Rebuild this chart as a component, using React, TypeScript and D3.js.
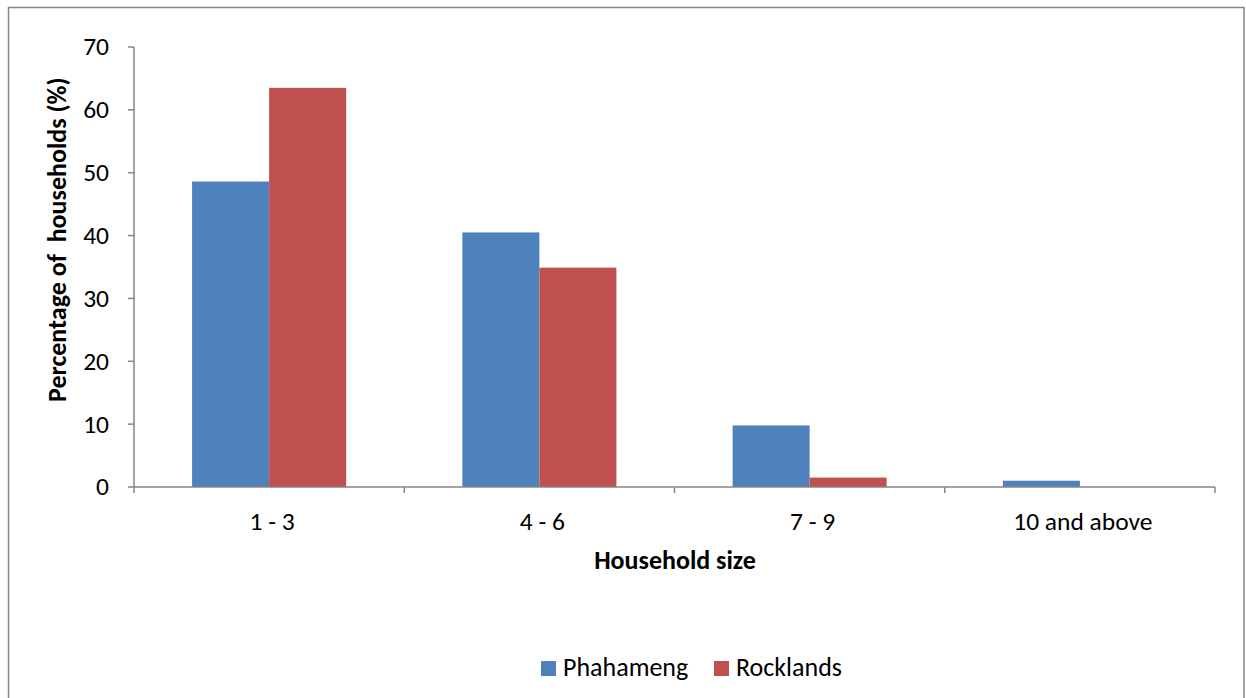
import React from "react";
import * as d3 from "d3";

const categories = ["1 - 3", "4 - 6", "7 - 9", "10 and above"];
const seriesNames = ["Phahameng", "Rocklands"];
const phahameng = [48.6, 40.5, 9.8, 1.0];
const rocklands = [63.5, 34.9, 1.5, 0];
const yTicks = [0, 10, 20, 30, 40, 50, 60, 70];
const colors = ["#4f81bd", "#c0504d"];

const W = 1246;
const H = 698;
const margin = { left: 134, right: 31, top: 47, bottom: 211 };
const font = "Carlito, Calibri, 'Open Sans', 'Noto Sans', sans-serif";

export default function App() {
  const x = d3
    .scaleBand<string>()
    .domain(categories)
    .range([margin.left, W - margin.right])
    .paddingInner(0)
    .paddingOuter(0);
  const y = d3.scaleLinear().domain([0, 70]).range([H - margin.bottom, margin.top]);
  const groupW = x.bandwidth() * 0.57;
  const x1 = d3.scaleBand<string>().domain(seriesNames).range([0, groupW]);
  const values = [phahameng, rocklands];
  const axisColor = "#868686";
  const y0 = y(0);

  return (
    <svg
      width={W}
      height={H}
      style={{ position: "absolute", left: 0, top: 0 }}
      fontFamily={font}
    >
      <rect x={0} y={0} width={W} height={H} fill="#fff" />
      <rect x={8.5} y={7.5} width={1235.5} height={H} fill="none" stroke={axisColor} strokeWidth={1.5} />

      {/* bars */}
      {categories.map((c, i) => {
        const gx = (x(c) as number) + (x.bandwidth() - groupW) / 2;
        return seriesNames.map((s, j) => {
          const v = values[j][i];
          if (v <= 0) return null;
          return (
            <rect
              key={c + s}
              x={gx + (x1(s) as number)}
              y={y(v)}
              width={x1.bandwidth()}
              height={y0 - y(v)}
              fill={colors[j]}
            />
          );
        });
      })}

      {/* y axis */}
      <line x1={margin.left} x2={margin.left} y1={y(70)} y2={y0} stroke={axisColor} strokeWidth={1.5} />
      {yTicks.map((t) => (
        <g key={t}>
          <line x1={margin.left - 6} x2={margin.left} y1={y(t)} y2={y(t)} stroke={axisColor} strokeWidth={1.5} />
          <text x={109} y={y(t)} dy="0.33em" textAnchor="end" fontSize={25.5} fill="#000">
            {t}
          </text>
        </g>
      ))}

      {/* x axis */}
      <line x1={margin.left} x2={W - margin.right} y1={y0} y2={y0} stroke={axisColor} strokeWidth={1.5} />
      {[...categories.map((c) => x(c) as number), W - margin.right].map((px, i) => (
        <line key={i} x1={px} x2={px} y1={y0} y2={y0 + 6} stroke={axisColor} strokeWidth={1.5} />
      ))}
      {categories.map((c) => (
        <text
          key={c}
          x={(x(c) as number) + x.bandwidth() / 2 + 3}
          y={530}
          textAnchor="middle"
          fontSize={25.5}
          fill="#000"
        >
          {c}
        </text>
      ))}

      {/* axis titles */}
      <text x={675} y={569} textAnchor="middle" fontSize={26} fontWeight="bold">
        Household size
      </text>
      <text
        transform="translate(66,402) rotate(-90)"
        textAnchor="start"
        fontSize={26}
        fontWeight="bold"
        style={{ whiteSpace: "pre" }}
      >
        Percentage of  households (%)
      </text>

      {/* legend */}
      {seriesNames.map((s, j) => {
        const lx = [541, 714][j];
        return (
          <g key={s}>
            <rect x={lx} y={661} width={15} height={15} fill={colors[j]} />
            <text x={lx + 22} y={676} fontSize={26} fill="#000">
              {s}
            </text>
          </g>
        );
      })}
    </svg>
  );
}
